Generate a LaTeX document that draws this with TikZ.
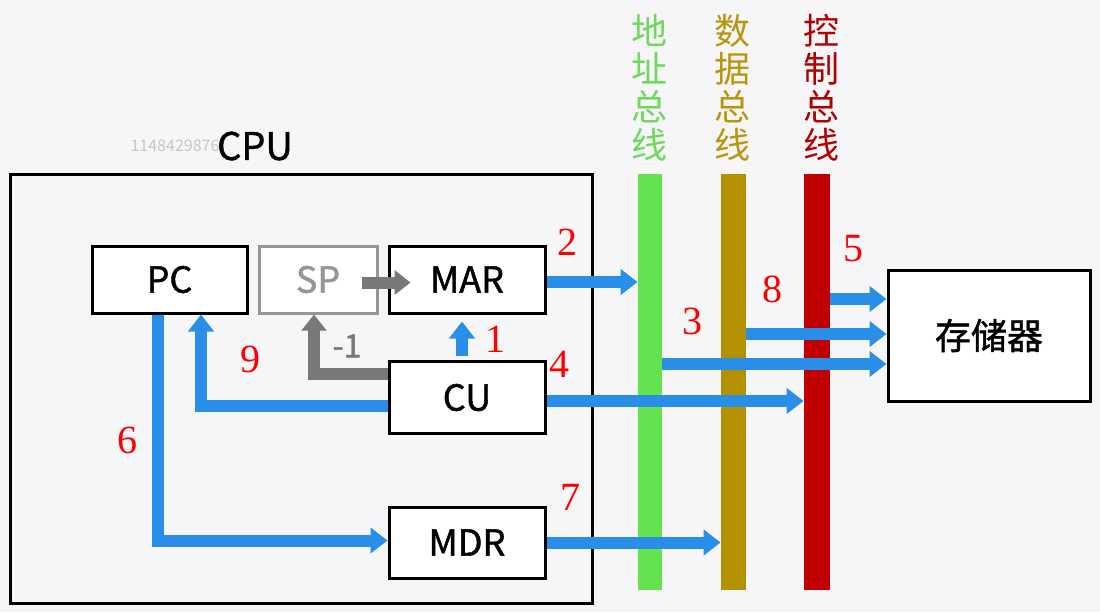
\documentclass[tikz,border=0pt]{standalone}
\usepackage{fontspec}
\setmainfont{Noto Sans CJK SC}
\newfontfamily\boxfont{Noto Sans CJK SC}[FakeBold=1.2]
\newfontfamily\numfont{Liberation Serif}
\usetikzlibrary{positioning,arrows.meta,calc}
\definecolor{bgcol}{RGB}{246,246,248}
\definecolor{flowblue}{RGB}{40,142,232}
\definecolor{decgray}{RGB}{120,120,120}
\definecolor{spgray}{RGB}{150,150,150}
\definecolor{addrgreen}{RGB}{100,226,80}
\definecolor{addrtext}{RGB}{112,216,92}
\definecolor{datagold}{RGB}{180,145,0}
\definecolor{datatext}{RGB}{184,150,12}
\definecolor{ctrlred}{RGB}{192,0,0}
\definecolor{ctrltext}{RGB}{178,0,0}

\begin{document}
\begin{tikzpicture}[x=0.5pt, y=-0.5pt, node distance=4.5pt,
	reg/.style={draw, line width=1.5pt, fill=white, inner sep=0pt, style={minimum width=77.5pt, minimum height=33.5pt}, font=\boxfont\fontsize{18}{20}\selectfont},
	bus/.style={inner sep=0pt, style={minimum height=208pt}},
	buslabel/.style={align=center, inner sep=0pt, font=\fontsize{18}{19}\selectfont},
	flow/.style={draw=flowblue, line width=6pt, line join=miter, -{Triangle[length=8.5pt,width=12.5pt]}},
	dec/.style={draw=decgray, line width=6pt, line join=miter, -{Triangle[length=8pt,width=12pt]}},
	stepnum/.style={text=red, inner sep=0pt, font=\numfont\fontsize{20}{22}\selectfont}]
	\fill[bgcol] (0,0) rectangle (1100,612);
	\useasboundingbox (0,0) rectangle (1100,612);

	% cpu frame
	\node[draw, line width=1.5pt, inner sep=0pt, style={minimum width=291pt, minimum height=214.5pt}] (cpu) at (301,388.5) {};
	\node[inner sep=0pt, font=\boxfont\fontsize{19}{20}\selectfont] (cpulabel) at (255,146) {CPU};
	\node[inner sep=0pt, text=black!22, font=\fontsize{8}{9}\selectfont] (wmark) at (175,146) {1148429876};

	% registers
	\node[reg] (PC) at (169.5,279.5) {PC};
	\node[reg, draw=spgray, text=spgray, style={minimum width=59pt}] (SP) [right=of PC] {SP};
	\node[reg, style={minimum width=78pt}] (MAR) [right=of SP] {MAR};
	\node[reg, style={minimum width=78pt, minimum height=36pt}] (CU) at (467,397.5) {CU};
	\node[reg, style={minimum width=78pt, minimum height=35.5pt}] (MDR) at (467,542.5) {MDR};
	\node[reg, style={minimum width=101pt, minimum height=65.5pt}] (store) at (989,335.5) {存储器};

	% buses
	\node[bus, fill=addrgreen, style={minimum width=12pt}] (abus) at (650,382) {};
	\node[bus, fill=datagold, style={minimum width=12.5pt}] (dbus) at (733.5,382) {};
	\node[bus, fill=ctrlred, style={minimum width=13pt}] (cbus) at (817,382) {};
	\node[buslabel, text=addrtext] (alabel) at (649,88) {地\\址\\总\\线};
	\node[buslabel, text=datatext] (dlabel) at (732,88) {数\\据\\总\\线};
	\node[buslabel, text=ctrltext] (clabel) at (821,88) {控\\制\\总\\线};

	% gray SP path
	\draw[dec] ([xshift=-8.5pt,yshift=-1.5pt]SP.east) -- ([xshift=11.5pt,yshift=-1.5pt]MAR.west);
	\draw[dec] ([yshift=11.75pt]CU.west) -| ([xshift=-2pt]SP.south);
	\node[inner sep=0pt, text=decgray, font=\boxfont\fontsize{16}{18}\selectfont] (minus) at (347,346) {-1};

	% blue data paths
	\coordinate (s5) at ([yshift=18.25pt]store.west);
	\coordinate (s8) at ([yshift=0.75pt]store.west);
	\coordinate (s3) at ([yshift=-14.25pt]store.west);
	\draw[flow, shorten <=2pt, shorten >=3.5pt] ([xshift=-2.5pt]CU.north) -- ([xshift=-2.5pt]MAR.south);
	\draw[flow] ([yshift=-1.25pt]MAR.east) -- ([yshift=-1.25pt]MAR.east -| abus.west);
	\draw[flow] (abus.east |- s3) -- (s3);
	\draw[flow] ([yshift=-1.75pt]CU.east) -- ([yshift=-1.75pt]CU.east -| cbus.west);
	\draw[flow] (cbus.east |- s5) -- (s5);
	\draw[flow] ([xshift=-5.75pt]PC.south) |- ([yshift=1pt]MDR.west);
	\draw[flow] (MDR.east) -- (MDR.east -| dbus.west);
	\draw[flow] (dbus.east |- s8) -- (s8);
	\draw[flow] ([yshift=-4.25pt]CU.west) -| ([xshift=15.75pt]PC.south);

	% step numbers
	\node[stepnum] (n1) at (495,339) {1};
	\node[stepnum] (n2) at (567,242) {2};
	\node[stepnum] (n3) at (692,321) {3};
	\node[stepnum] (n4) at (559,364) {4};
	\node[stepnum] (n5) at (853,249) {5};
	\node[stepnum] (n6) at (127,440) {6};
	\node[stepnum] (n7) at (570,497) {7};
	\node[stepnum] (n8) at (772,289) {8};
	\node[stepnum] (n9) at (250,359) {9};
\end{tikzpicture}
\end{document}
